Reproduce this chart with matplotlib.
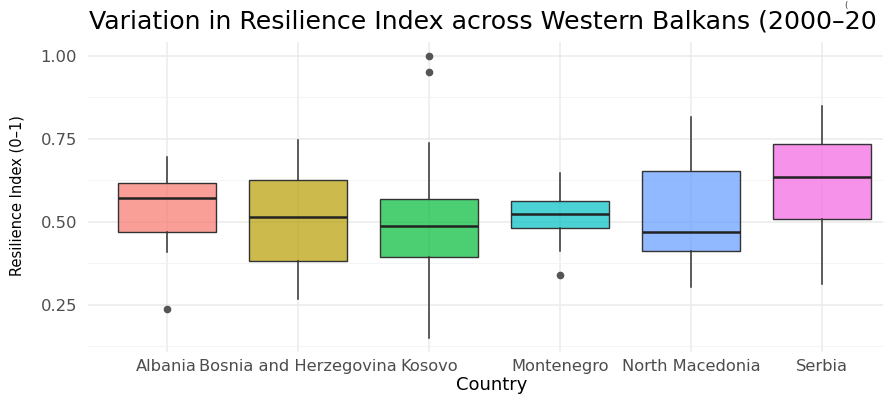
import numpy as np
import matplotlib
matplotlib.use('Agg')
import matplotlib.pyplot as plt
from matplotlib.ticker import FixedLocator

plt.rcParams['font.family'] = ['DejaVu Sans']

# summary stats
countries = ['Albania', 'Bosnia and Herzegovina', 'Kosovo', 'Montenegro',
             'North Macedonia', 'Serbia']
whis_lo = [0.411, 0.267, 0.152, 0.414, 0.303, 0.312]
q1 = [0.471, 0.383, 0.393, 0.483, 0.412, 0.508]
median = [0.573, 0.514, 0.488, 0.525, 0.469, 0.636]
q3 = [0.617, 0.627, 0.568, 0.563, 0.655, 0.736]
whis_hi = [0.695, 0.747, 0.737, 0.647, 0.815, 0.849]
outliers = [[0.239], [], [1.0, 0.952], [0.339], [], []]
colors = ['#F8766D', '#B79F00', '#00BA38', '#00BFC4', '#619CFF', '#F564E3']
y_ticks = [0.25, 0.5, 0.75, 1.0]
y_labels = ['0.25', '0.50', '0.75', '1.00']

W, H = 883, 394
fig = plt.figure(figsize=(W / 100, H / 100), dpi=100)
# panel runs past the right edge, as in the reference
ax = fig.add_axes([88 / W, 42 / H, (901 - 88) / W, (352 - 42) / H])

stats = []
for i, c in enumerate(countries):
    stats.append(dict(label=c, whislo=whis_lo[i], q1=q1[i], med=median[i],
                      q3=q3[i], whishi=whis_hi[i], fliers=outliers[i]))

pos = np.arange(1, len(countries) + 1)
bp = ax.bxp(stats, positions=pos, widths=0.75, patch_artist=True,
            showcaps=False,
            boxprops=dict(edgecolor='#333333', linewidth=1.0),
            medianprops=dict(color='#222222', linewidth=1.8),
            whiskerprops=dict(color='#333333', linewidth=1.1),
            flierprops=dict(marker='o', markersize=4.5, markerfacecolor='#555555',
                            markeredgecolor='#555555'),
            zorder=3)
for patch, col in zip(bp['boxes'], colors):
    patch.set_facecolor(matplotlib.colors.to_rgba(col, 0.7))

ax.set_xlim(0.4, 6.6)
ax.set_ylim(0.1084, 1.042)
ax.set_xticks(pos)
ax.set_xticklabels(countries)
ax.set_yticks(y_ticks)
ax.set_yticklabels(y_labels)
ax.yaxis.set_minor_locator(FixedLocator([0.125, 0.375, 0.625, 0.875]))
ax.grid(which='major', color='#EBEBEB', linewidth=1.1, zorder=0)
ax.grid(which='minor', axis='y', color='#F2F2F2', linewidth=0.6, zorder=0)
ax.set_axisbelow(True)
for s in ax.spines.values():
    s.set_visible(False)
ax.tick_params(which='both', length=0, labelcolor='#4D4D4D')
ax.tick_params(axis='x', labelsize=11.7, pad=5)
ax.tick_params(axis='y', labelsize=11.8, pad=8)

fig.text(89 / W, 1 - 22 / H, 'Variation in Resilience Index across Western Balkans (2000\u201320',
         ha='left', va='center', fontsize=18.2, color='black')
fig.text(846 / W, 1 - 1 / H, '(', ha='center', va='top', fontsize=6, color='#333333')
fig.text(17 / W, 1 - 196 / H, 'Resilience Index (0\u20131)', rotation=90,
         ha='center', va='center', fontsize=10.5)
fig.text(492 / W, 1 - 385 / H, 'Country', ha='center', va='center', fontsize=13)

fig.savefig('out.png', dpi=100)
